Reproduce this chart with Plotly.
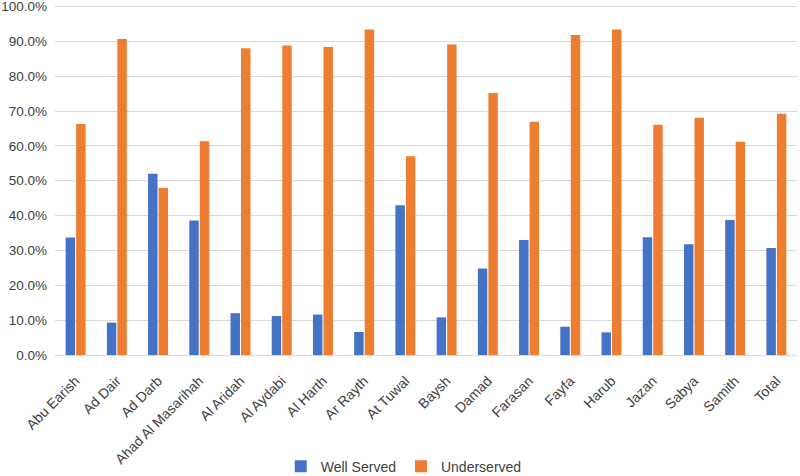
import plotly.graph_objects as go

# districts and shares
districts = ["Abu Earish", "Ad Dair", "Ad Darb", "Ahad Al Masarihah", "Al Aridah",
             "Al Aydabi", "Al Harth", "Ar Rayth", "At Tuwal", "Baysh", "Damad",
             "Farasan", "Fayfa", "Harub", "Jazan", "Sabya", "Samith", "Total"]
well_served = [33.7, 9.3, 52.0, 38.6, 12.0, 11.2, 11.6, 6.6, 43.0, 10.8, 24.8,
               33.0, 8.1, 6.5, 33.8, 31.8, 38.7, 30.7]
underserved = [66.3, 90.7, 48.0, 61.3, 88.0, 88.8, 88.4, 93.4, 57.0, 89.1, 75.2,
               66.9, 91.8, 93.4, 66.1, 68.1, 61.2, 69.2]

well_frac = [v / 100 for v in well_served]
under_frac = [v / 100 for v in underserved]

fig = go.Figure()
fig.add_trace(go.Bar(x=districts, y=well_frac, name="Well Served",
                     marker=dict(color="#4472C4", line=dict(width=0))))
fig.add_trace(go.Bar(x=districts, y=under_frac, name="Underserved",
                     marker=dict(color="#ED7D31", line=dict(width=0))))

fig.update_layout(
    width=800, height=476,
    margin=dict(l=55, r=3, t=3, b=121, autoexpand=False),
    plot_bgcolor="white", paper_bgcolor="white",
    barmode="group", bargap=0.49, bargroupgap=0.1,
    font=dict(family="Liberation Sans, Arial", size=13, color="#404040"),
    legend=dict(orientation="h", x=0.47, xanchor="center", y=-0.317, yanchor="middle",
                font=dict(size=14, color="#404040"), itemwidth=30, traceorder="normal"),
    showlegend=True,
)
fig.update_yaxes(range=[0, 1.01], tickmode="array",
                 tickvals=[i / 10 for i in range(11)], tickformat=".1%",
                 showgrid=True, gridcolor="#D9D9D9", gridwidth=1,
                 zeroline=True, zerolinecolor="#D9D9D9", zerolinewidth=1,
                 showline=False, ticks="", automargin=False, ticklabelstandoff=7,
                 ticklabeloverflow="allow",
                 tickfont=dict(size=13.5, color="#404040"))
fig.update_xaxes(tickangle=-45, showgrid=False, showline=False, ticks="",
                 automargin=False, ticklabelstandoff=14,
                 tickfont=dict(size=14, color="#404040"))

# drop the default body margin so the figure sits at the window corner
fig.write_html("out.html", config={"displayModeBar": False},
               post_script="document.body.style.margin='0px';")
